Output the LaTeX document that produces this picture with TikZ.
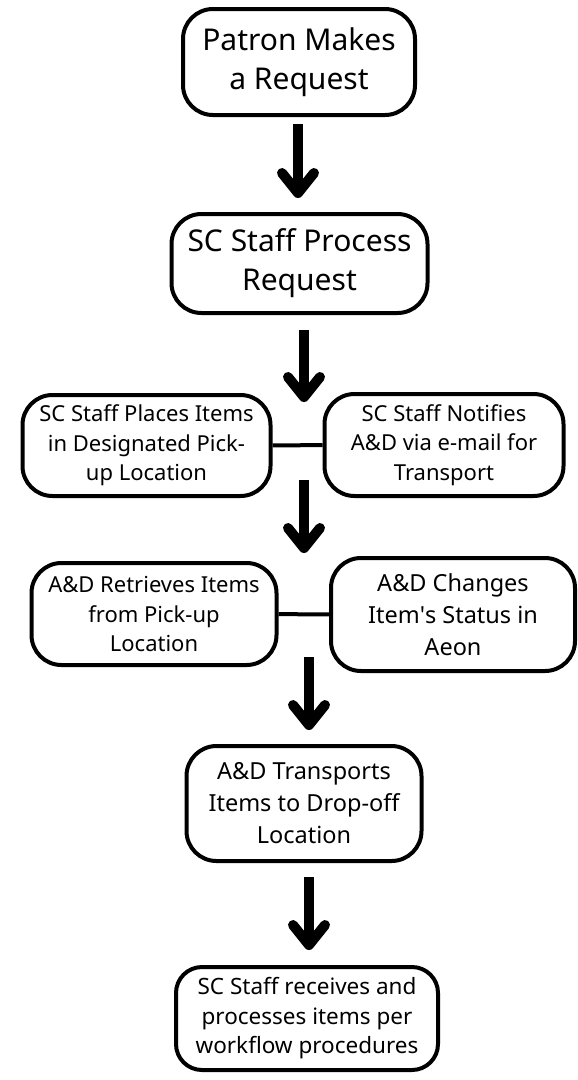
\documentclass[tikz,border=0pt]{standalone}
\usepackage{fontspec}
\setmainfont{Noto Sans}
\usetikzlibrary{arrows.meta}

\begin{document}
\begin{tikzpicture}[x=1pt, y=1pt,
    stage/.style={draw, line width=4pt, rounded corners=30pt, align=center, inner sep=0pt},
    big/.style={font=\fontsize{30}{39}\selectfont},
    mid/.style={font=\fontsize{23.5}{32}\selectfont},
    small/.style={font=\fontsize{22}{29.5}\selectfont},
    flow/.style={line width=10pt, -{Straight Barb[round, length=20pt, width=32pt]}},
    link/.style={line width=4pt}]
    \useasboundingbox (0, 0) rectangle (578, -1080);

    % first request
    \node (patron) at (299, -62) [stage, big, minimum width=232, minimum height=106] {Patron Makes\\a Request};
    \node (process) at (299.5, -263.5) [stage, big, minimum width=256, minimum height=99] {SC Staff Process\\Request};

    % pick-up
    \node (place) at (146.5, -445.5) [stage, small, minimum width=248, minimum height=101] {SC Staff Places Items\\in Designated Pick-\\up Location};
    \node (notify) at (444, -445) [stage, small, minimum width=239, minimum height=102] {SC Staff Notifies\\A\&D via e-mail for\\Transport};
    \draw [link] (place) -- (notify);

    % retrieval
    \node (retrieve) at (154, -614) [stage, small, minimum width=245, minimum height=102] {A\&D Retrieves Items\\from Pick-up\\Location};
    \node (status) at (453, -614.5) [stage, mid, minimum width=244, minimum height=113] {A\&D Changes\\Item\textquotesingle s Status in\\Aeon};
    \draw [link] (retrieve) -- (status);

    % drop-off
    \node (transport) at (304, -803.5) [stage, mid, minimum width=235, minimum height=115] {A\&D Transports\\Items to Drop-off\\Location};
    \node (receive) at (307, -1018.5) [stage, small, font=\fontsize{22.5}{29.5}\selectfont, rounded corners=26pt, minimum width=262, minimum height=103] {SC Staff receives and\\processes items per\\workflow procedures};

    % arrows
    \foreach \i/\x/\top/\tip in {1/298/124/198, 2/304/330/402, 3/304/480/553, 4/309/657/730, 5/309/877/950} {
        \coordinate (from\i) at (\x, -\top);
        \coordinate (to\i) at (\x, -\tip);
        \draw [flow] (from\i) -- (to\i);
    }
\end{tikzpicture}
\end{document}
